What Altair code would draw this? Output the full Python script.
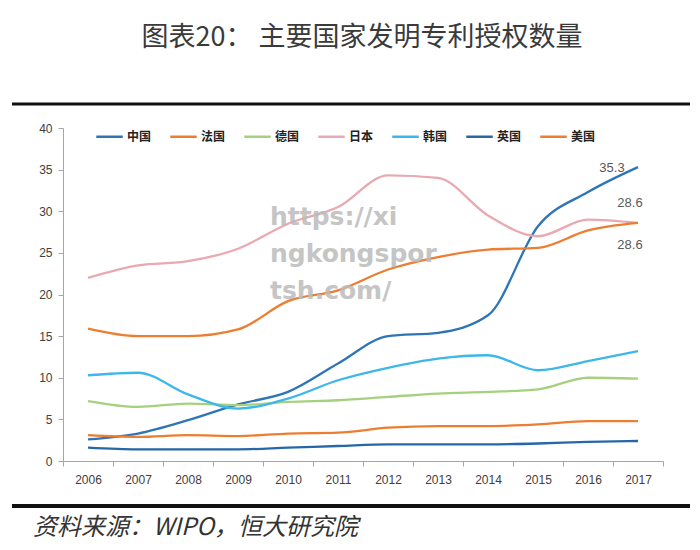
import altair as alt
import pandas as pd

years = ["2006", "2007", "2008", "2009", "2010", "2011", "2012", "2013", "2014", "2015", "2016", "2017"]
countries = ["中国", "法国", "德国", "日本", "韩国", "英国", "美国"]
colors = ["#2E75B6", "#ED7D31", "#A5D17E", "#E8A9B0", "#3DB7E9", "#2667A8", "#ED7D31"]

china = [2.6, 3.3, 4.9, 6.8, 8.3, 11.7, 15.0, 15.4, 17.5, 28.2, 32.3, 35.3]
france = [3.1, 2.9, 3.1, 3.0, 3.3, 3.4, 4.0, 4.2, 4.2, 4.4, 4.8, 4.8]
germany = [7.2, 6.5, 6.9, 6.7, 7.1, 7.3, 7.7, 8.1, 8.3, 8.6, 10.0, 9.9]
japan = [22.0, 23.5, 24.0, 25.5, 28.5, 30.5, 34.3, 34.0, 29.5, 27.0, 29.0, 28.6]
korea = [10.3, 10.6, 8.0, 6.3, 7.5, 9.7, 11.2, 12.3, 12.7, 10.9, 12.0, 13.2]
uk = [1.6, 1.4, 1.4, 1.4, 1.6, 1.8, 2.0, 2.0, 2.0, 2.1, 2.3, 2.4]
usa = [15.9, 15.0, 15.0, 15.8, 19.2, 20.5, 23.0, 24.5, 25.4, 25.6, 27.7, 28.6]

series = [china, france, germany, japan, korea, uk, usa]
rows = []
for name, vals in zip(countries, series):
    for y, v in zip(years, vals):
        rows.append({"year": y, "country": name, "value": v})
df = pd.DataFrame(rows)

end_labels = ["35.3", "28.6", "28.6"]
end_label_y = [35.2, 31.0, 25.9]
end_label_dx = [-26, -8, -8]

title_text = "图表20：  主要国家发明专利授权数量"
source_text = "资料来源：WIPO，恒大研究院"
watermark = ["https://xi", "ngkongspor", "tsh.com/"]

W, H = 600, 333

x_enc = alt.X("year:N", sort=years, title=None,
              scale=alt.Scale(paddingInner=0, paddingOuter=0),
              axis=alt.Axis(tickBand="extent", labelAngle=0, labelFontSize=12,
                            labelColor="#404040", domainColor="#A6A6A6",
                            tickColor="#A6A6A6", labelPadding=8, tickSize=5,
                            labelFont="Liberation Sans"))
y_enc = alt.Y("value:Q", title=None,
              scale=alt.Scale(domain=[0, 40], nice=False),
              axis=alt.Axis(values=[0, 5, 10, 15, 20, 25, 30, 35, 40], grid=False,
                            labelFontSize=12, labelColor="#404040",
                            domainColor="#A6A6A6", tickColor="#A6A6A6",
                            tickSize=5, labelPadding=6, labelFont="Liberation Sans"))

lines = alt.Chart(df).mark_line(strokeWidth=2.3, interpolate="monotone").encode(
    x=x_enc, y=y_enc,
    color=alt.Color("country:N", scale=alt.Scale(domain=countries, range=colors),
                    legend=alt.Legend(orient="none", legendX=32, legendY=-6,
                                      direction="horizontal", columns=7,
                                      title=None, symbolType="stroke",
                                      symbolStrokeWidth=2.5, symbolSize=700,
                                      labelFontSize=12, labelFontWeight="bold",
                                      labelFont="Noto Sans CJK SC",
                                      labelColor="#222222",
                                      labelOffset=3, columnPadding=13)),
    detail="country:N",
)

ann_df = pd.DataFrame({"year": ["2017"] * 3, "value": end_label_y,
                       "label": end_labels})
ann = alt.layer(*[
    alt.Chart(ann_df.iloc[[i]]).mark_text(fontSize=13, color="#595959",
                                          font="Liberation Sans", dx=end_label_dx[i]).encode(
        x=alt.X("year:N", sort=years), y="value:Q", text="label:N")
    for i in range(3)
])

def txt(text, x, y, **kw):
    return alt.Chart(pd.DataFrame({"t": [text]})).mark_text(**kw).encode(
        x=alt.value(x), y=alt.value(y), text="t:N")

title = txt(title_text, 299, -90, fontSize=27, font="Noto Sans CJK SC",
            fontWeight="normal", color="#3a3a3a", align="center", baseline="middle")
source = txt(source_text, -30, 400, fontSize=24, font="Noto Sans CJK SC",
             fontStyle="italic", color="#333333", align="left", baseline="middle")
wm = alt.layer(*[
    txt(t, 207, 89 + 37 * i, fontSize=25, font="DejaVu Sans", fontWeight="bold",
        color="#BBBBBB", opacity=0.85, align="left", baseline="middle")
    for i, t in enumerate(watermark)
])

rule_top = alt.Chart(pd.DataFrame({"a": [0]})).mark_rule(strokeWidth=3, color="#111111").encode(
    x=alt.value(-51), x2=alt.value(627), y=alt.value(-24))
rule_bot = alt.Chart(pd.DataFrame({"a": [0]})).mark_rule(strokeWidth=4, color="#111111").encode(
    x=alt.value(-51), x2=alt.value(627), y=alt.value(378))

chart = alt.layer(lines, ann, wm, title, source, rule_top, rule_bot).properties(
    width=W, height=H,
    autosize=alt.AutoSizeParams(type="none"),
    padding={"left": 55, "top": 120, "right": 29, "bottom": 81},
).configure_view(stroke=None)

chart.save("out.html", embed_options={"renderer": "svg", "actions": False})
